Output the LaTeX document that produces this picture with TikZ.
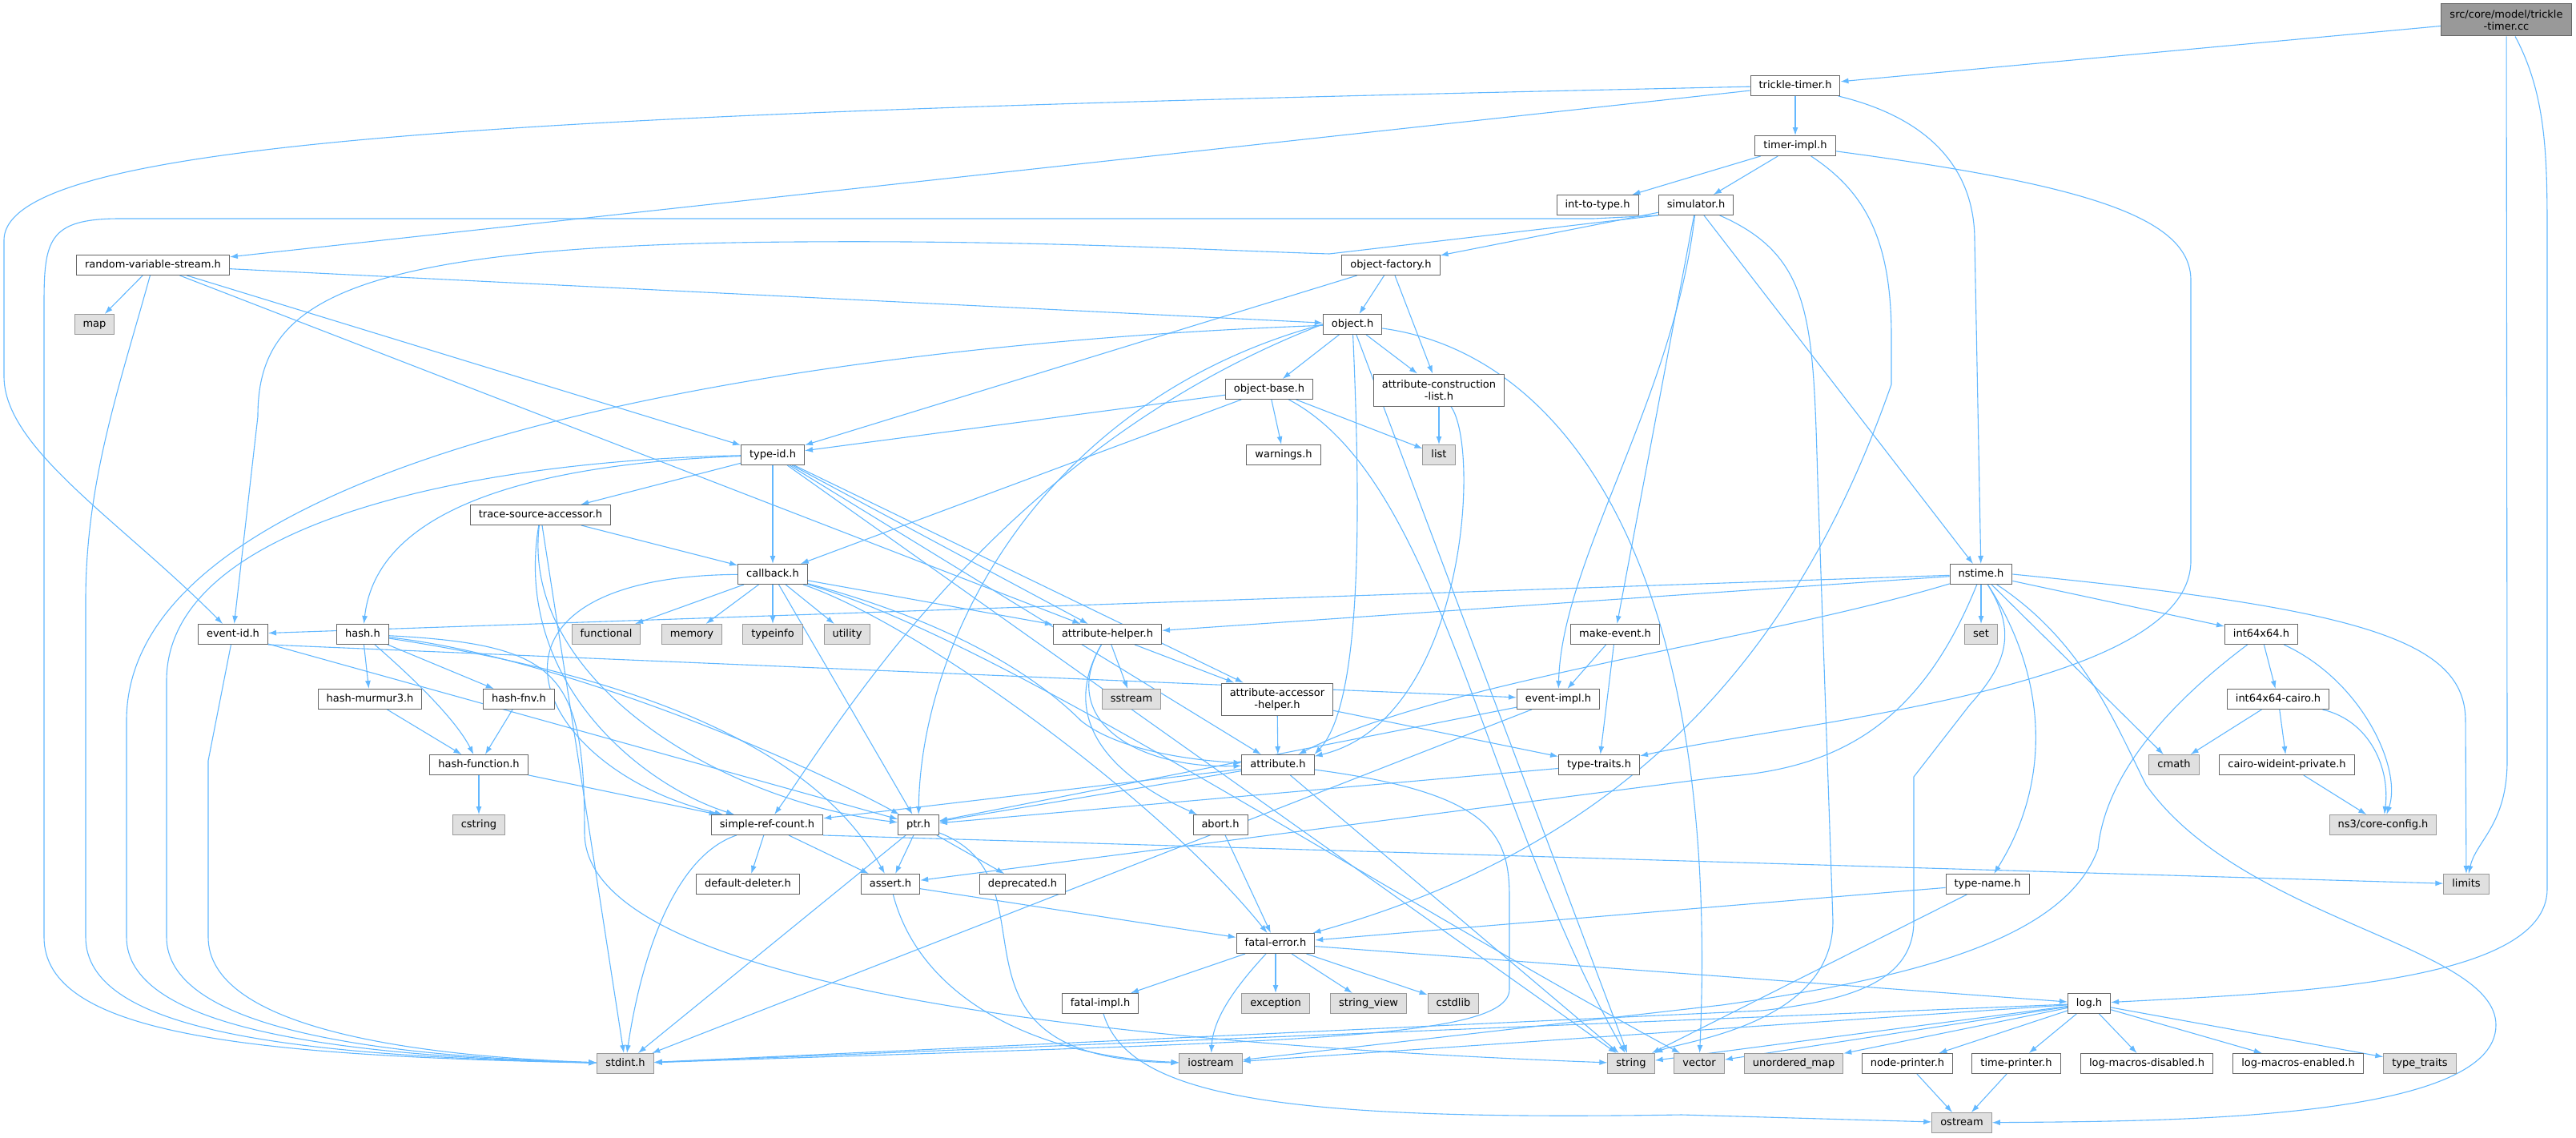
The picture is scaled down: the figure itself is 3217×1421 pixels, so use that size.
\documentclass[tikz,border=0pt]{standalone}
\usepackage{fontspec}
\setmainfont{DejaVu Sans}
\usetikzlibrary{arrows.meta,backgrounds}
\definecolor{edgeblue}{HTML}{63B8FF}
\definecolor{boxline}{HTML}{666666}
\definecolor{sysline}{HTML}{999999}
\definecolor{sysfill}{HTML}{E0E0E0}
\definecolor{mainfill}{HTML}{999999}
\tikzset{
  box/.style={draw=boxline, fill=white, line width=1pt, inner xsep=10.5pt, font=\fontsize{13}{15}\selectfont},
  file/.style={box, text height=10pt, text depth=3pt, inner ysep=6pt},
  wfile/.style={box, align=center, inner ysep=5pt, minimum height=40pt},
  sys/.style={file, draw=sysline, fill=sysfill},
  mainfile/.style={wfile, fill=mainfill},
  dep/.style={draw=edgeblue, line width=1.1pt, -{Latex[length=10pt,width=7pt]}},
}
\begin{document}
\begin{tikzpicture}[x=1pt,y=-1pt]
\useasboundingbox (0,0) rectangle (3217,1421);

% files, row by row
\node[mainfile] (root) at (3130,25) {src/core/model/trickle\\-timer.cc};
\node[file] (ttimer) at (2242,107) {trickle-timer.h};
\node[file] (timpl) at (2242,182) {timer-impl.h};
\node[file] (inttype) at (1995,256) {int-to-type.h};
\node[file] (sim) at (2118,256) {simulator.h};
\node[file] (rvs) at (191,331) {random-variable-stream.h};
\node[file] (objfac) at (1737,331) {object-factory.h};
\node[sys] (map) at (118,405) {map};
\node[file] (object) at (1689,405) {object.h};
\node[file] (objbase) at (1585,486) {object-base.h};
\node[wfile] (acl) at (1797,487) {attribute-construction\\-list.h};
\node[file] (warnings) at (1603,568) {warnings.h};
\node[sys] (list) at (1797,568) {list};
\node[file] (typeid) at (965,568) {type-id.h};
\node[file] (tsa) at (675,643) {trace-source-accessor.h};
\node[file] (callback) at (965,717) {callback.h};
\node[file] (nstime) at (2474,717) {nstime.h};
\node[file] (eventid) at (291,792) {event-id.h};
\node[file] (hash) at (453,792) {hash.h};
\node[sys] (functional) at (757,792) {functional};
\node[sys] (memory) at (864,792) {memory};
\node[sys] (typeinfo) at (965,792) {typeinfo};
\node[sys] (utility) at (1058,792) {utility};
\node[file] (attrhelper) at (1383,792) {attribute-helper.h};
\node[file] (makeevent) at (2017,792) {make-event.h};
\node[sys] (set) at (2474,792) {set};
\node[file] (int64) at (2824,792) {int64x64.h};
\node[file] (murmur) at (462,873) {hash-murmur3.h};
\node[file] (fnv) at (648,873) {hash-fnv.h};
\node[sys] (sstream) at (1413,873) {sstream};
\node[wfile] (aah) at (1595,873) {attribute-accessor\\-helper.h};
\node[file] (eventimpl) at (1946,873) {event-impl.h};
\node[file] (cairo) at (2845,873) {int64x64-cairo.h};
\node[file] (hashfn) at (598,955) {hash-function.h};
\node[file] (attribute) at (1596,955) {attribute.h};
\node[file] (typetraits) at (1997,955) {type-traits.h};
\node[sys] (cmath) at (2715,955) {cmath};
\node[file] (wideint) at (2856,955) {cairo-wideint-private.h};
\node[sys] (cstring) at (598,1030) {cstring};
\node[file] (src) at (958,1030) {simple-ref-count.h};
\node[file] (ptr) at (1147,1030) {ptr.h};
\node[file] (abort) at (1524,1030) {abort.h};
\node[sys] (coreconfig) at (2976,1030) {ns3/core-config.h};
\node[file] (deleter) at (934,1104) {default-deleter.h};
\node[file] (assert) at (1112,1104) {assert.h};
\node[file] (deprecated) at (1277,1104) {deprecated.h};
\node[file] (typename) at (2482,1104) {type-name.h};
\node[sys] (limits) at (3080,1104) {limits};
\node[file] (fatal) at (1593,1178) {fatal-error.h};
\node[file] (fatalimpl) at (1374,1253) {fatal-impl.h};
\node[sys] (exception) at (1593,1253) {exception};
\node[sys] (stringview) at (1709,1253) {string\_view};
\node[sys] (cstdlib) at (1815,1253) {cstdlib};
\node[file] (log) at (2609,1253) {log.h};
\node[sys] (stdint) at (781,1328) {stdint.h};
\node[sys] (iostream) at (1512,1328) {iostream};
\node[sys] (string) at (2037,1328) {string};
\node[sys] (vector) at (2122,1328) {vector};
\node[sys] (umap) at (2240,1328) {unordered\_map};
\node[file] (nodeprinter) at (2382,1328) {node-printer.h};
\node[file] (timeprinter) at (2518,1328) {time-printer.h};
\node[file] (lmd) at (2681,1328) {log-macros-disabled.h};
\node[file] (lme) at (2870,1328) {log-macros-enabled.h};
\node[sys] (stdtraits) at (3022,1328) {type\_traits};
\node[sys] (ostream) at (2450,1402) {ostream};

\begin{scope}[on background layer]
% trickle-timer.cc
\draw[dep] (root) -- (ttimer);
\draw[dep] (root) -- (3131,950) .. controls (3131,1030) and (3092,1050) .. (limits);
\draw[dep] (root) .. controls (3181,120) and (3181,200) .. (3181,300) -- (3181,1110) .. controls (3181,1230) and (2850,1240) .. (log);
% trickle-timer.h
\draw[dep] (ttimer) -- (timpl);
\draw[dep] (ttimer) -- (rvs);
\draw[dep] (ttimer) .. controls (2420,150) and (2466,220) .. (2466,300) -- (nstime);
\draw[dep] (ttimer) .. controls (700,140) and (5,170) .. (5,300) -- (5,470) .. controls (5,560) and (150,650) .. (eventid);
% timer-impl.h
\draw[dep] (timpl) -- (inttype);
\draw[dep] (timpl) -- (sim);
\draw[dep] (timpl) .. controls (2330,240) and (2362,300) .. (2362,420) -- (2362,480) .. controls (2250,800) and (2050,1050) .. (fatal);
\draw[dep] (timpl) .. controls (2600,230) and (2736,270) .. (2736,350) -- (2736,700) .. controls (2736,860) and (2250,900) .. (typetraits);
% simulator.h
\foreach \t in {objfac,nstime,makeevent}
  \draw[dep] (sim) -- (\t);
\draw[dep] (sim) .. controls (2090,500) and (1950,700) .. (eventimpl);
\draw[dep] (sim.south west) -- (1990,273) -- (150,273) .. controls (60,273) and (55,300) .. (55,380) -- (55,1170) .. controls (55,1290) and (300,1318) .. (stdint);
\draw[dep] (sim.south west) -- (1660,317) .. controls (1500,312) and (1300,300) .. (1000,302) .. controls (420,305) and (322,380) .. (322,520) -- (eventid);
\draw[dep] (sim) .. controls (2264,320) and (2264,400) .. (2270,600) -- (2289,1150) .. controls (2289,1280) and (2100,1300) .. (string);
% random-variable-stream.h
\foreach \t in {map,typeid,object,attrhelper}
  \draw[dep] (rvs) -- (\t);
\draw[dep] (rvs) .. controls (150,480) and (107,600) .. (107,750) -- (107,1170) .. controls (107,1285) and (350,1318) .. (stdint);
% object-factory.h, object.h
\foreach \t in {object,acl,typeid}
  \draw[dep] (objfac) -- (\t);
\foreach \t in {objbase,acl,string}
  \draw[dep] (object) -- (\t);
\draw[dep] (object.west) .. controls (1300,500) and (1150,800) .. (ptr);
\draw[dep] (object.west) .. controls (1250,560) and (1050,900) .. (src);
\draw[dep] (object) .. controls (1700,650) and (1700,880) .. (attribute.north east);
\draw[dep] (object) .. controls (1950,440) and (2150,700) .. (vector);
\draw[dep] (object) .. controls (1000,430) and (158,560) .. (158,900) -- (158,1170) .. controls (158,1280) and (400,1318) .. (stdint);
\draw[dep] (acl) -- (list);
\draw[dep] (acl) .. controls (1850,560) and (1830,900) .. (attribute);
\foreach \t in {typeid,callback,warnings,list}
  \draw[dep] (objbase) -- (\t);
\draw[dep] (objbase) .. controls (1800,600) and (1850,1000) .. (string);
% type-id.h
\foreach \t in {tsa,callback,attrhelper,aah,attribute,string}
  \draw[dep] (typeid) -- (\t);
\draw[dep] (typeid) .. controls (650,580) and (470,640) .. (hash);
\draw[dep] (typeid) .. controls (600,575) and (208,650) .. (208,850) -- (208,1170) .. controls (208,1280) and (450,1318) .. (stdint);
\draw[dep] (tsa) -- (callback);
\draw[dep] (tsa) .. controls (650,850) and (900,1000) .. (ptr);
\draw[dep] (tsa) .. controls (640,850) and (800,980) .. (src);
\draw[dep] (tsa) -- (stdint);
% callback.h
\foreach \t in {functional,memory,typeinfo,utility,attrhelper,ptr}
  \draw[dep] (callback) -- (\t);
\draw[dep] (callback) .. controls (1150,780) and (1450,1000) .. (fatal);
\draw[dep] (callback) .. controls (1200,780) and (1300,850) .. (1350,900) .. controls (1400,940) and (1500,950) .. (attribute);
\draw[dep] (callback) .. controls (560,720) and (660,960) .. (src);
\draw[dep] (callback) .. controls (1250,800) and (1700,1100) .. (vector);
% event-id.h, hash.h
\draw[dep] (eventid.south east) -- (eventimpl);
\draw[dep] (eventid) -- (ptr);
\draw[dep] (eventid) -- (260,950) -- (260,1170) .. controls (260,1280) and (500,1318) .. (stdint);
\draw[dep] (hash) -- (murmur);
\draw[dep] (hash) -- (fnv);
\draw[dep] (hash) .. controls (520,850) and (570,900) .. (hashfn);
\draw[dep] (hash) .. controls (700,830) and (1000,900) .. (assert);
\draw[dep] (hash) .. controls (700,820) and (1000,950) .. (ptr);
\draw[dep] (hash) .. controls (700,805) and (730,840) .. (730,1040) .. controls (730,1220) and (1300,1300) .. (string);
\draw[dep] (murmur) -- (hashfn);
\draw[dep] (fnv) -- (hashfn);
\draw[dep] (hashfn) -- (cstring);
\draw[dep] (hashfn) -- (src);
% attribute helpers
\draw[dep] (attrhelper) -- (sstream);
\draw[dep] (attrhelper) -- (aah);
\draw[dep] (attrhelper) .. controls (1320,900) and (1390,970) .. (abort);
\draw[dep] (attrhelper) .. controls (1320,900) and (1420,960) .. (attribute);
\draw[dep] (aah) -- (attribute);
\draw[dep] (aah) -- (typetraits);
\foreach \t in {ptr,src,string}
  \draw[dep] (attribute) -- (\t);
\draw[dep] (attribute) .. controls (1860,990) and (1885,1040) .. (1885,1120) -- (1885,1235) .. controls (1885,1300) and (1600,1300) .. (stdint);
% events
\draw[dep] (makeevent) -- (eventimpl);
\draw[dep] (makeevent) -- (typetraits);
\draw[dep] (eventimpl) -- (ptr);
\draw[dep] (eventimpl) -- (stdint);
\draw[dep] (typetraits) -- (ptr);
% ptr.h, simple-ref-count.h
\draw[dep] (ptr) -- (assert);
\draw[dep] (ptr) -- (deprecated);
\draw[dep] (ptr) -- (stdint);
\draw[dep] (ptr) .. controls (1330,1100) and (1150,1320) .. (iostream);
\draw[dep] (src) -- (assert);
\draw[dep] (src) -- (deleter);
\draw[dep] (src.south east) -- (limits);
\draw[dep] (src) .. controls (840,1070) and (800,1200) .. (stdint);
\draw[dep] (assert) -- (fatal);
\draw[dep] (assert) .. controls (1150,1250) and (1300,1320) .. (iostream);
\draw[dep] (abort) -- (fatal);
% fatal-error.h
\foreach \t in {fatalimpl,exception,stringview,cstdlib,log}
  \draw[dep] (fatal) -- (\t);
\draw[dep] (fatal) .. controls (1545,1230) and (1515,1270) .. (iostream);
\draw[dep] (fatalimpl) .. controls (1410,1370) and (1600,1400) .. (2100,1392) -- (ostream);
\draw[dep] (typename) -- (fatal);
\draw[dep] (typename) -- (string);
% nstime.h
\foreach \t in {eventid,attrhelper,set,int64,cmath}
  \draw[dep] (nstime) -- (\t);
\draw[dep] (nstime) .. controls (2200,800) and (1800,850) .. (attribute);
\draw[dep] (nstime) .. controls (2560,850) and (2560,980) .. (typename);
\draw[dep] (nstime) .. controls (2400,900) and (2300,960) .. (2150,970) -- (assert);
\draw[dep] (nstime) .. controls (2520,790) and (2505,830) .. (2460,880) -- (2390,970) -- (2390,1150) .. controls (2390,1230) and (2300,1250) .. (2200,1262) -- (stdint);
\draw[dep] (nstime.east) .. controls (2950,760) and (3079,800) .. (3079,900) -- (limits);
\draw[dep] (nstime) .. controls (2600,800) and (2640,900) .. (2680,980) .. controls (2800,1150) and (3117,1180) .. (3117,1280) .. controls (3117,1400) and (2700,1400) .. (ostream);
% int64x64
\draw[dep] (int64) -- (cairo);
\draw[dep] (int64) .. controls (2950,850) and (3000,960) .. (coreconfig);
\draw[dep] (int64) .. controls (2720,870) and (2630,960) .. (2620,1060) .. controls (2580,1170) and (2400,1220) .. (2150,1255) -- (iostream);
\draw[dep] (cairo) -- (cmath);
\draw[dep] (cairo) -- (wideint);
\draw[dep] (cairo) .. controls (2960,900) and (2985,960) .. (coreconfig);
\draw[dep] (wideint) -- (coreconfig);
% log.h
\foreach \t in {stdint,iostream,string,vector,umap,nodeprinter,timeprinter,lmd,lme,stdtraits}
  \draw[dep] (log) -- (\t);
\draw[dep] (nodeprinter) -- (ostream);
\draw[dep] (timeprinter) -- (ostream);
\end{scope}
\end{tikzpicture}
\end{document}
